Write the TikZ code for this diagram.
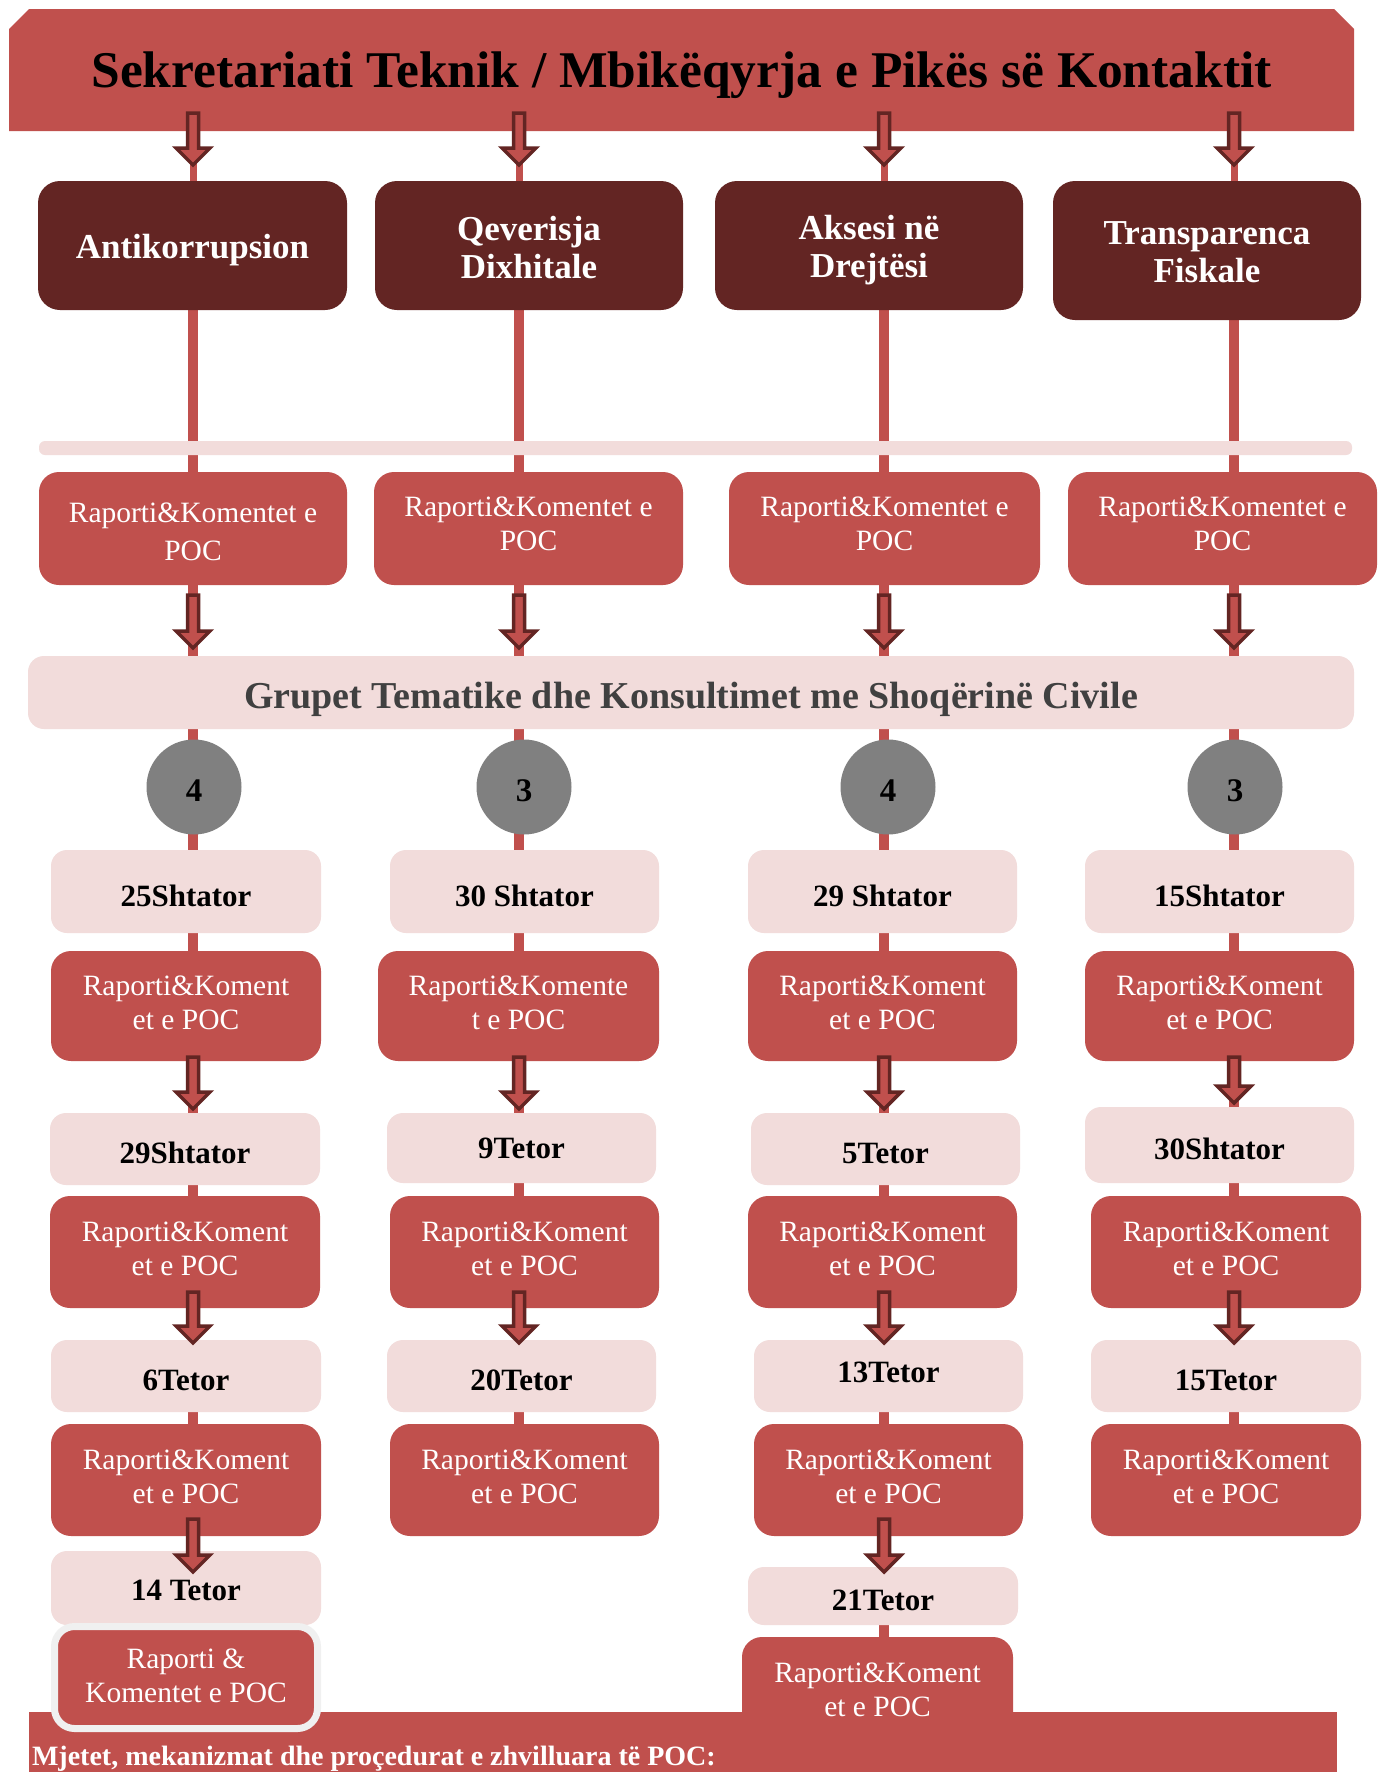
\documentclass[tikz,border=0pt]{standalone}
\usepackage{fontspec}
\setmainfont{Liberation Serif}
\usetikzlibrary{calc}
\pgfdeclarelayer{background}
\pgfsetlayers{background,main}

\definecolor{pocred}{HTML}{C0504D}
\definecolor{pocdark}{HTML}{632523}
\definecolor{pocpink}{HTML}{F2DCDB}
\definecolor{pocgray}{HTML}{808080}
\definecolor{poctext}{HTML}{404040}
\definecolor{pocrim}{HTML}{F0F0F0}

% box from (x1,y1) to (x2,y2) with its caption:
% [caption options] name, kind, x1, y1, x2, y2, caption
\newcommand\pocbox[8][]{%
  \node[#3, minimum width={#6-#4}, minimum height={#7-#5}] (#2)
    at ({(#4+#6)/2},{(#5+#7)/2}) {};
  \node[#3 text, #1] at (#2.center) {#8};}

\begin{document}
\begin{tikzpicture}[x=1pt,y=-1pt,
  every node/.style={inner sep=0pt, outer sep=0pt},
  headbox/.style={fill=pocdark, rounded corners=22pt},
  headbox text/.style={text=white, align=center, yshift=-4.5pt,
    font=\fontsize{35}{38}\selectfont\bfseries},
  redbox/.style={fill=pocred, rounded corners=20pt},
  redbox text/.style={text=white, align=center, yshift=3.5pt,
    font=\fontsize{29.5}{34}\selectfont},
  datebox/.style={fill=pocpink, rounded corners=16pt},
  datebox text/.style={text=black, yshift=-4pt,
    font=\fontsize{31}{36}\selectfont\bfseries},
  countdot/.style={circle, fill=pocgray, minimum size=95pt},
  countdot text/.style={text=black, yshift=-4pt,
    font=\fontsize{33}{38}\selectfont\bfseries},
  vline/.style={draw=pocred, line width=10pt},
  thinvline/.style={draw=pocred, line width=7pt},
  blockarrow/.style={draw=pocdark, fill=pocred, line width=3.5pt, line join=miter,
    to path={let \p1=(\tikztostart), \p2=(\tikztotarget) in
      (\x1-5.5pt,\y1) -- (\x1+5.5pt,\y1) -- (\x1+5.5pt,\y2+17pt)
      -- (\x1+17pt,\y2+17pt) -- (\x1,\y2) -- (\x1-17pt,\y2+17pt)
      -- (\x1-5.5pt,\y2+17pt) -- cycle}},
]
\begin{pgfonlayer}{background}
  \fill[white] (0,0) rectangle (1379,1772);
\end{pgfonlayer}
\useasboundingbox (0,0) rectangle (1379,1772);

% column axes
\coordinate (c1) at (193,0);
\coordinate (c2) at (519,0);
\coordinate (c3) at (884,0);
\coordinate (c4) at (1234,0);

% title banner with chamfered top corners
\fill[pocred] (9,29) -- (29,9) -- (1334,9) -- (1354,29) -- (1354,131) -- (9,131) -- cycle;
\node[minimum width=1345pt, minimum height=122pt] (banner) at (681.5,70) {};
\node[yshift=-5pt, font=\fontsize{51.5}{60}\selectfont\bfseries] at (banner.center)
  {Sekretariati Teknik / Mbikëqyrja e Pikës së Kontaktit};

% thematic areas
\pocbox{h1}{headbox}{38}{181}{347}{310}{Antikorrupsion}
\pocbox[yshift=2.5pt]{h2}{headbox}{375}{181}{683}{310}{Qeverisja\\Dixhitale}
\pocbox{h3}{headbox}{715}{181}{1023}{310}{Aksesi në\\Drejtësi}
\pocbox[yshift=3pt]{h4}{headbox}{1053}{181}{1361}{320}{Transparenca\\Fiskale}

% separator strip
\node[fill=pocpink, rounded corners=6pt, minimum width=1313pt, minimum height=14pt]
  (strip) at (695.5,448) {};

% first reports
\pocbox[yshift=-6.5pt, font=\fontsize{29.5}{38}\selectfont]{r1}{redbox}{39}{472}{347}{585}{Raporti\&Komentet e\\POC}
\pocbox[yshift=1pt]{r2}{redbox}{374}{472}{683}{585}{Raporti\&Komentet e\\POC}
\pocbox[yshift=1pt]{r3}{redbox}{729}{472}{1040}{585}{Raporti\&Komentet e\\POC}
\pocbox[yshift=1pt]{r4}{redbox}{1068}{472}{1377}{585}{Raporti\&Komentet e\\POC}

% thematic groups bar
\node[fill=pocpink, rounded corners=16pt, minimum width=1326pt, minimum height=73pt]
  (groups) at (691,692.5) {};
\node[yshift=-7pt, text=poctext, font=\fontsize{38}{42}\selectfont\bfseries]
  at (groups.center) {Grupet Tematike dhe Konsultimet me Shoqërinë Civile};

% number of meetings
\node[countdot] (n1) at (194,787) {};
\node[countdot] (n2) at (524,787) {};
\node[countdot] (n3) at (888,787) {};
\node[countdot] (n4) at (1235,787) {};
\node[countdot text] at (n1.center) {4};
\node[countdot text] at (n2.center) {3};
\node[countdot text] at (n3.center) {4};
\node[countdot text] at (n4.center) {3};

% meeting dates and reports
\pocbox{d1a}{datebox}{51}{850}{321}{933}{25Shtator}
\pocbox{d1b}{datebox}{390}{850}{659}{933}{30 Shtator}
\pocbox{d1c}{datebox}{748}{850}{1017}{933}{29 Shtator}
\pocbox{d1d}{datebox}{1085}{850}{1354}{933}{15Shtator}

\pocbox{ra1}{redbox}{51}{951}{321}{1061}{Raporti\&Koment\\et e POC}
\pocbox{ra2}{redbox}{378}{951}{659}{1061}{Raporti\&Komente\\t e POC}
\pocbox{ra3}{redbox}{748}{951}{1017}{1061}{Raporti\&Koment\\et e POC}
\pocbox{ra4}{redbox}{1085}{951}{1354}{1061}{Raporti\&Koment\\et e POC}

\pocbox{d2a}{datebox}{50}{1113}{320}{1185}{29Shtator}
\pocbox[yshift=3.5pt]{d2b}{datebox}{387}{1113}{656}{1183}{9Tetor}
\pocbox{d2c}{datebox}{751}{1113}{1020}{1185}{5Tetor}
\pocbox{d2d}{datebox}{1085}{1107}{1354}{1183}{30Shtator}

\pocbox{rb1}{redbox}{50}{1196}{320}{1308}{Raporti\&Koment\\et e POC}
\pocbox{rb2}{redbox}{390}{1196}{659}{1308}{Raporti\&Koment\\et e POC}
\pocbox{rb3}{redbox}{748}{1196}{1017}{1308}{Raporti\&Koment\\et e POC}
\pocbox{rb4}{redbox}{1091}{1196}{1361}{1308}{Raporti\&Koment\\et e POC}

\pocbox{d3a}{datebox}{51}{1340}{321}{1412}{6Tetor}
\pocbox{d3b}{datebox}{387}{1340}{656}{1412}{20Tetor}
\pocbox[yshift=8pt]{d3c}{datebox}{754}{1340}{1023}{1412}{13Tetor}
\pocbox{d3d}{datebox}{1091}{1340}{1361}{1412}{15Tetor}

\pocbox{rc1}{redbox}{51}{1424}{321}{1536}{Raporti\&Koment\\et e POC}
\pocbox{rc2}{redbox}{390}{1424}{659}{1536}{Raporti\&Koment\\et e POC}
\pocbox{rc3}{redbox}{754}{1424}{1023}{1536}{Raporti\&Koment\\et e POC}
\pocbox{rc4}{redbox}{1091}{1424}{1361}{1536}{Raporti\&Koment\\et e POC}

\pocbox[yshift=2pt]{d4a}{datebox}{51}{1551}{321}{1625}{14 Tetor}
\pocbox{d4c}{datebox}{748}{1567}{1018}{1625}{21Tetor}

% footer band
\node[fill=pocred, minimum width=1308pt, minimum height=60pt] (basebar) at (683,1742) {};
\node[anchor=base west, text=white, font=\fontsize{28}{32}\selectfont\bfseries]
  (basetext) at (32,1765) {Mjetet, mekanizmat dhe proçedurat e zhvilluara të POC:};

% last reports, drawn over the footer band
\pocbox[yshift=-2pt]{rd3}{redbox}{742}{1637}{1013}{1745}{Raporti\&Koment\\et e POC}
\node[redbox, draw=pocrim, line width=7pt, minimum width=263pt, minimum height=102pt]
  (rd1) at (186,1677.5) {};
\node[redbox text, yshift=-1.5pt] at (rd1.center) {Raporti \&\\Komentet e POC};

% column spines
\begin{pgfonlayer}{background}
  \draw[thinvline] (banner.south -| c1) -- (h1.north -| c1);
  \draw[thinvline] (banner.south -| c2) -- (h2.north -| c2);
  \draw[thinvline] (banner.south -| c3) -- (h3.north -| c3);
  \draw[thinvline] (banner.south -| c4) -- (h4.north -| c4);
  \draw[vline] (h1.south -| c1) -- (d4a.north -| c1);
  \draw[vline] (h2.south -| c2) -- (rc2.north -| c2);
  \draw[vline] (h3.south -| c3) -- (rd3.north -| c3);
  \draw[vline] (h4.south -| c4) -- (rc4.north -| c4);
\end{pgfonlayer}

% block arrows
\foreach \col/\hb in {c1/h1,c2/h2,c3/h3,c4/h4}
  \draw[blockarrow] ($(banner.south -| \col)+(0,-18)$) to ($(\hb.north -| \col)+(0,-16)$);
\foreach \col/\rb in {c1/r1,c2/r2,c3/r3,c4/r4}
  \draw[blockarrow] ($(\rb.south -| \col)+(0,10)$) to ($(groups.north -| \col)+(0,-8)$);
\foreach \col/\ra/\db in {c1/ra1/d2a,c2/ra2/d2b,c3/ra3/d2c,c4/ra4/d2d}
  \draw[blockarrow] ($(\ra.south -| \col)+(0,-4)$) to ($(\db.north -| \col)+(0,-4)$);
\foreach \col/\ra/\db in {c1/rb1/d3a,c2/rb2/d3b,c3/rb3/d3c,c4/rb4/d3d}
  \draw[blockarrow] ($(\ra.south -| \col)+(0,-16)$) to ($(\db.north -| \col)+(0,3)$);
\draw[blockarrow] ($(rc1.south -| c1)+(0,-17)$) to ($(d4a.north -| c1)+(0,21)$);
\draw[blockarrow] ($(rc3.south -| c3)+(0,-17)$) to ($(d4c.north -| c3)+(0,5)$);
\end{tikzpicture}
\end{document}
